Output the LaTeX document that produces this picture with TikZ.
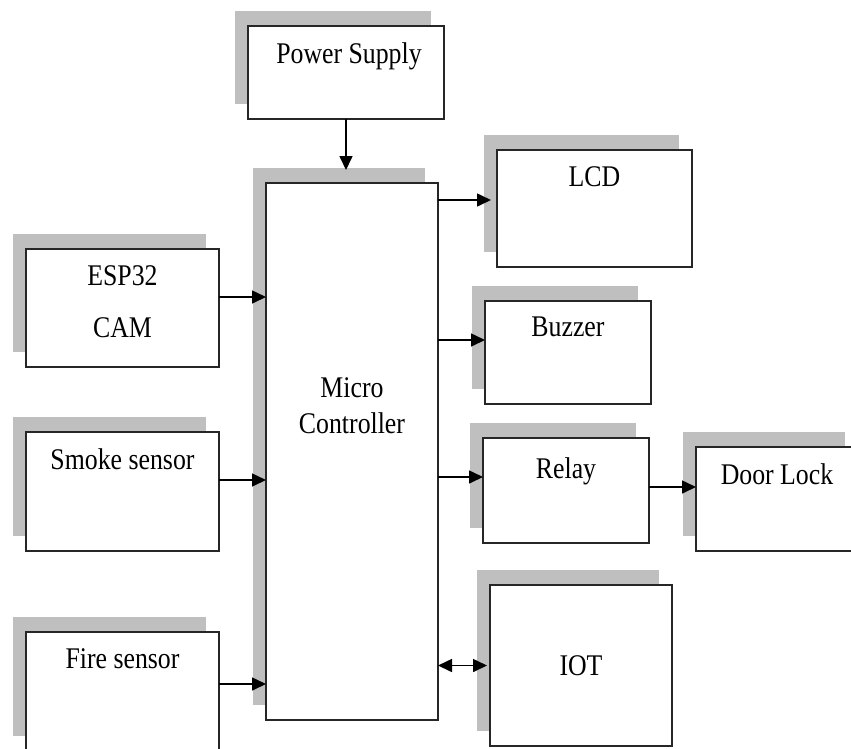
\documentclass[tikz,border=0pt]{standalone}
\usepackage{fontspec}
\setmainfont{Liberation Serif}[FakeStretch=0.86]
\usetikzlibrary{arrows.meta}
\usetikzlibrary{shadows}
\usetikzlibrary{positioning}
\tikzset{block/.style={rectangle,draw=black!85,fill=white,line width=1.5pt,inner sep=0pt,outer sep=0pt,drop shadow={shadow xshift=-13pt,shadow yshift=15pt,fill=gray!50,opacity=1}}}
\tikzset{lbl/.style={inner sep=0pt,align=center,font=\fontsize{30}{36}\selectfont}}
\tikzset{arr/.style={-{Triangle[length=14pt,width=13pt]},line width=1.6pt}}
\tikzset{arr2/.style={{Triangle[length=14pt,width=13pt]}-{Triangle[length=14pt,width=13pt]},line width=1.6pt}}

\begin{document}
\begin{tikzpicture}[x=1pt,y=-1pt]
    \useasboundingbox (0,0) rectangle (851,748);
    \clip (0,0) rectangle (851,748);

    \node[block,minimum width=172pt,minimum height=537pt,label={[lbl,anchor=north,yshift=-194pt]north:{Micro\\Controller}}] (mcu) at (352,451.5) {};
    \node[block,minimum width=196pt,minimum height=93pt,label={[lbl,anchor=north,yshift=-16pt,xshift=3pt]north:Power Supply}] (psu) at (346,72.5) {};
    \node[block,minimum width=195pt,minimum height=117pt,label={[lbl,anchor=north,yshift=-16pt]north:LCD}] (lcd) at (594.5,208.5) {};
    \node[block,minimum width=166pt,minimum height=103pt,label={[lbl,anchor=north,yshift=-16pt]north:Buzzer}] (buz) at (568,352.5) {};
    \node[block,minimum width=166pt,minimum height=105pt,label={[lbl,anchor=north,yshift=-19pt]north:Relay}] (rly) at (566,490.5) {};
    \node[block,minimum width=162pt,minimum height=104pt,label={[lbl,anchor=north,yshift=-16pt]north:Door Lock}] (lock) [right=47pt of rly,yshift=-8.5pt] {};
    \node[block,lbl,minimum width=182pt,minimum height=161pt] (iot) at (581,665.5) {IOT};
    \node[block,minimum width=193pt,minimum height=118pt,label={[lbl,anchor=north,yshift=-16pt]north:{ESP32\\[16pt]CAM}}] (esp) at (122.5,308) {};
    \node[block,minimum width=193pt,minimum height=119pt,label={[lbl,anchor=north,yshift=-16pt]north:Smoke sensor}] (smk) [below=65pt of esp] {};
    \node[block,minimum width=193pt,minimum height=119pt,label={[lbl,anchor=north,yshift=-16pt]north:Fire sensor}] (fire) [below=81pt of smk] {};

    % inputs
    \coordinate (espout) at ([yshift=11pt]esp.east);
    \coordinate (smkout) at ([yshift=11.5pt]smk.east);
    \coordinate (fireout) at ([yshift=7.5pt]fire.east);
    \draw[arr,shorten >=13pt] (psu.south) -- (psu.south |- mcu.north);
    \draw[arr] (espout) -- (espout -| mcu.west);
    \draw[arr] (smkout) -- (smkout -| mcu.west);
    \draw[arr] (fireout) -- (fireout -| mcu.west);

    % outputs
    \coordinate (lcdin) at ([yshift=8.5pt]lcd.west);
    \coordinate (buzin) at ([yshift=12.5pt]buz.west);
    \coordinate (rlyin) at ([yshift=13.5pt]rly.west);
    \coordinate (rlyout) at ([yshift=3.5pt]rly.east);
    \draw[arr,shorten >=6pt] (lcdin -| mcu.east) -- (lcdin);
    \draw[arr] (buzin -| mcu.east) -- (buzin);
    \draw[arr] (rlyin -| mcu.east) -- (rlyin);
    \draw[arr] (rlyout) -- (rlyout -| lock.west);
    \draw[arr2,shorten >=3pt] (mcu.east |- iot.west) -- (iot.west);
\end{tikzpicture}
\end{document}
